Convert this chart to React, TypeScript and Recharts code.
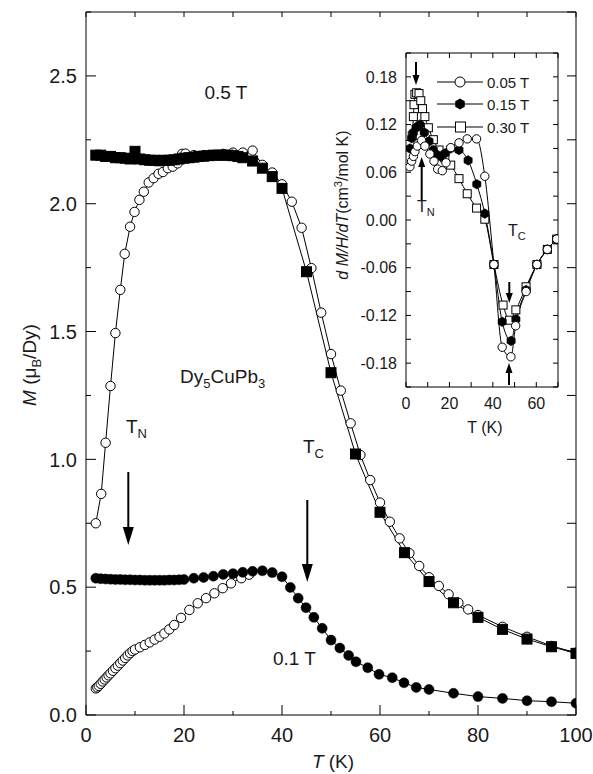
import React from 'react';
import { LineChart, Line, XAxis, YAxis } from 'recharts';

const FONT = '"Liberation Sans", Arial, Helvetica, sans-serif';

// Main panel: M (muB/Dy) vs T (K)
// 0.5 T, zero-field-cooled (open circles)
const t05zfc = [2, 3.1, 4, 5, 6, 7, 7.9, 9, 9.9, 10.9, 11.8, 12.8, 13.8, 14.8, 15.7, 16.7, 17.7, 18.7, 19.6, 20.3, 22, 24, 26, 28, 30, 32, 34, 36, 38, 40, 42, 44, 46, 48, 50, 52, 54, 56, 58, 60, 62, 64, 66, 68, 70, 72, 74, 76, 78, 80, 85, 90, 95, 100];
const m05zfc = [0.75, 0.865, 1.065, 1.287, 1.494, 1.663, 1.804, 1.91, 1.968, 2.015, 2.047, 2.083, 2.1, 2.117, 2.124, 2.139, 2.145, 2.158, 2.195, 2.196, 2.19, 2.19, 2.19, 2.195, 2.2, 2.2, 2.208, 2.152, 2.122, 2.076, 2.008, 1.906, 1.748, 1.574, 1.412, 1.269, 1.141, 1.017, 0.919, 0.831, 0.756, 0.691, 0.633, 0.583, 0.539, 0.505, 0.472, 0.439, 0.413, 0.391, 0.345, 0.306, 0.27, 0.244];
// 0.5 T, field-cooled (filled squares)
const t05fc = [2, 3, 4, 5, 6, 7, 8, 9, 10, 11, 12, 13, 14, 15, 16, 17, 18, 19, 20, 21, 22, 23, 24, 25, 26, 27, 28, 29, 30, 31, 32, 34, 36, 38, 40, 45, 50, 55, 60, 65, 70, 75, 80, 85, 90, 95, 100];
const m05fc = [2.19, 2.19, 2.185, 2.185, 2.18, 2.18, 2.178, 2.175, 2.205, 2.175, 2.172, 2.17, 2.17, 2.168, 2.17, 2.17, 2.172, 2.175, 2.178, 2.18, 2.182, 2.185, 2.186, 2.188, 2.19, 2.19, 2.19, 2.19, 2.188, 2.185, 2.18, 2.167, 2.139, 2.106, 2.06, 1.734, 1.339, 1.021, 0.793, 0.635, 0.522, 0.439, 0.382, 0.335, 0.297, 0.267, 0.241];
// 0.1 T, zero-field-cooled (open circles)
const t01zfc = [2, 2.3, 2.6, 3, 3.4, 3.8, 4.2, 4.6, 5, 5.5, 6, 6.5, 7, 7.5, 8, 8.5, 9, 9.5, 10, 11, 12, 13, 14, 15, 16, 17, 18, 19.4, 21.1, 22.8, 24.5, 26.2, 27.9, 29.6, 31.7, 33.3];
const m01zfc = [0.104, 0.108, 0.114, 0.122, 0.131, 0.139, 0.147, 0.155, 0.163, 0.173, 0.183, 0.193, 0.203, 0.213, 0.223, 0.233, 0.242, 0.25, 0.256, 0.265, 0.274, 0.284, 0.295, 0.306, 0.319, 0.335, 0.352, 0.38, 0.411, 0.437, 0.457, 0.476, 0.496, 0.515, 0.535, 0.549];
// 0.1 T, field-cooled (filled circles)
const t01fc = [2, 3, 4, 5, 6, 7, 8, 9, 10, 11, 12, 13, 14, 15, 16, 17, 18, 19, 20, 22, 24, 26, 28, 30, 32, 34, 36, 38, 40, 41.7, 43.3, 44.9, 46.5, 48.2, 50, 51.8, 53.6, 55.1, 57.5, 59.8, 62.5, 64.9, 67.4, 70, 75, 80, 85, 90, 95, 100];
const m01fc = [0.535, 0.533, 0.532, 0.531, 0.53, 0.53, 0.529, 0.529, 0.528, 0.528, 0.527, 0.527, 0.527, 0.527, 0.527, 0.528, 0.528, 0.529, 0.53, 0.535, 0.538, 0.543, 0.55, 0.553, 0.558, 0.562, 0.564, 0.557, 0.541, 0.499, 0.457, 0.42, 0.382, 0.339, 0.293, 0.262, 0.233, 0.208, 0.185, 0.159, 0.146, 0.126, 0.108, 0.1, 0.085, 0.072, 0.065, 0.056, 0.052, 0.046];

// Inset: d(M/H)/dT (cm3/mol K) vs T (K)
const t005 = [1.8, 2.6, 3.4, 4.1, 5.2, 7.2, 8.7, 11, 12.9, 14.6, 16.7, 18.4, 20.6, 24.4, 28.2, 32.5, 36.3, 40.5, 44.3, 48.3, 50.5, 55.3, 60.3, 65.1, 69.4];
const v005 = [0.067, 0.074, 0.08, 0.086, 0.093, 0.1, 0.093, 0.083, 0.074, 0.064, 0.062, 0.072, 0.091, 0.097, 0.102, 0.102, 0.055, -0.056, -0.16, -0.172, -0.133, -0.09, -0.056, -0.037, -0.024];
const t015 = [1.8, 2.6, 3.4, 4.6, 5.7, 6.4, 8.4, 10.6, 12.6, 14.4, 15.9, 18.1, 20.6, 24.4, 28.6, 32.6, 36.3, 40.5, 44.3, 48.4, 50.6, 55.3, 60.3, 65.1, 69.4];
const v015 = [0.09, 0.103, 0.11, 0.116, 0.118, 0.12, 0.11, 0.099, 0.088, 0.082, 0.08, 0.084, 0.09, 0.088, 0.075, 0.045, 0.008, -0.056, -0.128, -0.152, -0.125, -0.088, -0.056, -0.037, -0.024];
const t030 = [1.8, 2.9, 3.4, 3.7, 4.1, 4.9, 6, 6.8, 7.6, 8.7, 10.3, 12.6, 15.2, 17.9, 20.6, 24.4, 28.2, 32.5, 36.3, 40.5, 44.7, 47.7, 50.6, 55.3, 60.3, 65.1, 69.4];
const v030 = [0.095, 0.106, 0.13, 0.145, 0.158, 0.16, 0.159, 0.15, 0.14, 0.13, 0.116, 0.101, 0.088, 0.078, 0.069, 0.052, 0.033, 0.015, 0.001, -0.056, -0.107, -0.126, -0.113, -0.084, -0.056, -0.037, -0.024];

const legendLabels = ['0.05 T', '0.15 T', '0.30 T'];

// axis ticks
const mainXTicks = [0, 10, 20, 30, 40, 50, 60, 70, 80, 90, 100];
const mainYTicks = [0, 0.25, 0.5, 0.75, 1, 1.25, 1.5, 1.75, 2, 2.25, 2.5, 2.75];
const insetXTicks = [0, 10, 20, 30, 40, 50, 60, 70];
const insetYTicks = [-0.21, -0.18, -0.15, -0.12, -0.09, -0.06, -0.03, 0, 0.03, 0.06, 0.09, 0.12, 0.15, 0.18, 0.21];

const zip = (t: number[], v: number[]) => t.map((x, i) => ({ t: x, v: v[i] }));

type Side = 'bottom' | 'top' | 'left' | 'right';
interface TickSpec {
  side: Side;
  major: (v: number) => boolean;
  label?: (v: number) => string;
  longLen: number;
  shortLen: number;
  fontSize?: number;
  gap?: number;
}

// inward tick marks, labels outside
function axisTick(spec: TickSpec) {
  return function Tick(props: any) {
    const { x, y, payload } = props;
    const v = payload.value as number;
    const big = spec.major(v);
    const len = big ? spec.longLen : spec.shortLen;
    const dx = spec.side === 'left' ? len : spec.side === 'right' ? -len : 0;
    const dy = spec.side === 'bottom' ? -len : spec.side === 'top' ? len : 0;
    let text = null;
    if (spec.label && big) {
      const common = { fill: '#1a1a1a', fontFamily: FONT, fontSize: spec.fontSize };
      if (spec.side === 'bottom') {
        text = (
          <text x={x} y={y + (spec.gap || 0)} textAnchor="middle" {...common}>
            {spec.label(v)}
          </text>
        );
      } else if (spec.side === 'left') {
        text = (
          <text x={x - (spec.gap || 0)} y={y} dy="0.36em" textAnchor="end" {...common}>
            {spec.label(v)}
          </text>
        );
      }
    }
    return (
      <g>
        <line x1={x} y1={y} x2={x + dx} y2={y + dy} stroke="#000" strokeWidth={1} />
        {text}
      </g>
    );
  };
}

const isMult = (v: number, step: number) => Math.abs(Math.round(v / step) * step - v) < 1e-6;

const mainBottomTick = axisTick({ side: 'bottom', major: (v) => isMult(v, 20), label: (v) => String(v), longLen: 10, shortLen: 4, fontSize: 20, gap: 27 });
const mainTopTick = axisTick({ side: 'top', major: () => true, longLen: 5, shortLen: 5 });
const mainLeftTick = axisTick({ side: 'left', major: (v) => isMult(v, 0.5), label: (v) => v.toFixed(1), longLen: 10, shortLen: 5, fontSize: 20, gap: 9 });
const mainRightTick = axisTick({ side: 'right', major: () => true, longLen: 9, shortLen: 9 });

const insetBottomTick = axisTick({ side: 'bottom', major: (v) => isMult(v, 20), label: (v) => String(v), longLen: 5, shortLen: 5, fontSize: 16, gap: 22 });
const insetTopTick = axisTick({ side: 'top', major: () => true, longLen: 5, shortLen: 5 });
const insetLeftTick = axisTick({ side: 'left', major: (v) => isMult(v, 0.06), label: (v) => (Math.abs(v) < 1e-9 ? '0.00' : v.toFixed(2)), longLen: 5, shortLen: 5, fontSize: 16, gap: 9 });
const insetRightTick = axisTick({ side: 'right', major: () => true, longLen: 5, shortLen: 5 });

// marker shapes
const openCircle = (r: number) => (p: any) => (
  <circle key={p.index} cx={p.cx} cy={p.cy} r={r} fill="#fff" stroke="#000" strokeWidth={1} />
);
const filledCircle = (r: number) => (p: any) => (
  <circle key={p.index} cx={p.cx} cy={p.cy} r={r} fill="#000" stroke="#000" strokeWidth={0.5} />
);
const square = (s: number, filled: boolean) => (p: any) => (
  <rect key={p.index} x={p.cx - s / 2} y={p.cy - s / 2} width={s} height={s} fill={filled ? '#000' : '#fff'} stroke="#000" strokeWidth={1} />
);
const hexPath = (cx: number, cy: number, r: number) => {
  const pts = [0, 1, 2, 3, 4, 5].map((k) => {
    const a = (Math.PI / 3) * k - Math.PI / 2;
    return `${(cx + r * Math.cos(a)).toFixed(2)},${(cy + r * Math.sin(a)).toFixed(2)}`;
  });
  return `M${pts.join('L')}Z`;
};
const hexagon = (r: number) => (p: any) => <path key={p.index} d={hexPath(p.cx, p.cy, r)} fill="#000" stroke="#000" strokeWidth={0.5} />;

function Arrow({ x, from, to, head = 18, half = 5.5 }: { x: number; from: number; to: number; head?: number; half?: number }) {
  const dir = to > from ? 1 : -1;
  const base = to - dir * head;
  return (
    <g>
      <line x1={x} y1={from} x2={x} y2={base} stroke="#000" strokeWidth={2} />
      <path d={`M${x - half},${base} L${x + half},${base} L${x},${to} Z`} fill="#000" />
    </g>
  );
}

const W = 593;
const H = 774;

export default function App() {
  const lineProps = { stroke: '#000', strokeWidth: 1, isAnimationActive: false, activeDot: false as const, dataKey: 'v' };
  return (
    <div style={{ position: 'absolute', left: 0, top: 0, width: W, height: H, background: '#fff', fontFamily: FONT }}>
      {/* main panel */}
      <div style={{ position: 'absolute', left: 0, top: 0 }}>
        <LineChart width={W} height={H} margin={{ top: 11, right: 16, bottom: 58, left: 85 }}>
          <XAxis xAxisId="b" type="number" dataKey="t" domain={[0, 100]} allowDataOverflow ticks={mainXTicks} interval={0} height={1} orientation="bottom" tickSize={0} tickMargin={0} tick={mainBottomTick} tickLine={false} axisLine={{ stroke: '#000' }} />
          <XAxis xAxisId="t" type="number" dataKey="t" domain={[0, 100]} allowDataOverflow ticks={mainXTicks} interval={0} height={1} orientation="top" tickSize={0} tickMargin={0} tick={mainTopTick} tickLine={false} axisLine={{ stroke: '#000' }} />
          <YAxis yAxisId="l" type="number" domain={[0, 2.75]} allowDataOverflow ticks={mainYTicks} interval={0} width={1} orientation="left" tickSize={0} tickMargin={0} tick={mainLeftTick} tickLine={false} axisLine={{ stroke: '#000' }} />
          <YAxis yAxisId="r" type="number" domain={[0, 2.75]} allowDataOverflow ticks={mainYTicks} interval={0} width={1} orientation="right" tickSize={0} tickMargin={0} tick={mainRightTick} tickLine={false} axisLine={{ stroke: '#000' }} />
          <Line {...lineProps} xAxisId="b" yAxisId="l" data={zip(t05zfc, m05zfc)} type="linear" dot={openCircle(4.7)} />
          <Line {...lineProps} xAxisId="b" yAxisId="l" data={zip(t05fc, m05fc)} type="linear" dot={square(10, true)} />
          <Line {...lineProps} xAxisId="b" yAxisId="l" data={zip(t01zfc, m01zfc)} type="linear" dot={openCircle(4.7)} />
          <Line {...lineProps} xAxisId="b" yAxisId="l" data={zip(t01fc, m01fc)} type="linear" dot={filledCircle(5)} />
        </LineChart>
      </div>

      {/* inset panel */}
      <div style={{ position: 'absolute', left: 0, top: 0 }}>
        <LineChart width={W} height={H} margin={{ top: 52, right: 34, bottom: 386, left: 405 }}>
          <XAxis xAxisId="b" type="number" dataKey="t" domain={[0, 70]} allowDataOverflow ticks={insetXTicks} interval={0} height={1} orientation="bottom" tickSize={0} tickMargin={0} tick={insetBottomTick} tickLine={false} axisLine={{ stroke: '#000' }} />
          <XAxis xAxisId="t" type="number" dataKey="t" domain={[0, 70]} allowDataOverflow ticks={insetXTicks} interval={0} height={1} orientation="top" tickSize={0} tickMargin={0} tick={insetTopTick} tickLine={false} axisLine={{ stroke: '#000' }} />
          <YAxis yAxisId="l" type="number" domain={[-0.21, 0.21]} allowDataOverflow ticks={insetYTicks} interval={0} width={1} orientation="left" tickSize={0} tickMargin={0} tick={insetLeftTick} tickLine={false} axisLine={{ stroke: '#000' }} />
          <YAxis yAxisId="r" type="number" domain={[-0.21, 0.21]} allowDataOverflow ticks={insetYTicks} interval={0} width={1} orientation="right" tickSize={0} tickMargin={0} tick={insetRightTick} tickLine={false} axisLine={{ stroke: '#000' }} />
          <Line {...lineProps} xAxisId="b" yAxisId="l" data={zip(t030, v030)} type="monotone" dot={square(8, false)} />
          <Line {...lineProps} xAxisId="b" yAxisId="l" data={zip(t015, v015)} type="monotone" dot={hexagon(4.8)} />
          <Line {...lineProps} xAxisId="b" yAxisId="l" data={zip(t005, v005)} type="monotone" dot={openCircle(4.2)} />
        </LineChart>
      </div>

      {/* labels and annotations */}
      <svg width={W} height={H} style={{ position: 'absolute', left: 0, top: 0, pointerEvents: 'none' }} fontFamily={FONT} fill="#1a1a1a">
        {/* main axis titles */}
        <text x={333} y={768} fontSize={19} textAnchor="middle">
          <tspan fontStyle="italic">T</tspan> (K)
        </text>
        <text transform="translate(36,365) rotate(-90)" fontSize={19} textAnchor="middle">
          <tspan fontStyle="italic">M</tspan> (μ<tspan fontSize={13} dy={5}>B</tspan>
          <tspan dy={-5}>/Dy)</tspan>
        </text>

        <text x={226} y={99} fontSize={19} textAnchor="middle">0.5 T</text>
        <text x={180} y={383} fontSize={19}>
          Dy<tspan fontSize={13} dy={5}>5</tspan>
          <tspan dy={-5}>CuPb</tspan>
          <tspan fontSize={13} dy={5}>3</tspan>
        </text>
        <text x={273} y={665} fontSize={19}>0.1 T</text>

        <text x={126} y={433} fontSize={19}>
          T<tspan fontSize={13} dy={5}>N</tspan>
        </text>
        <Arrow x={128.3} from={472} to={545} />
        <text x={303} y={453} fontSize={19}>
          T<tspan fontSize={13} dy={5}>C</tspan>
        </text>
        <Arrow x={307.3} from={500} to={582} />

        {/* inset titles */}
        <text x={485} y={433} fontSize={16} textAnchor="middle">T (K)</text>
        <text transform="translate(348,205) rotate(-90)" fontSize={16} textAnchor="middle">
          <tspan fontStyle="italic">d M/H/dT</tspan>(cm<tspan fontSize={11} dy={-6}>3</tspan>
          <tspan dy={6}>/mol K)</tspan>
        </text>

        <text x={417} y={212} fontSize={16}>
          T<tspan fontSize={11} dy={4}>N</tspan>
        </text>
        <Arrow x={416} from={62} to={85} head={10} half={3.5} />
        <Arrow x={421.7} from={200} to={157} head={10} half={3.5} />
        <text x={508} y={236} fontSize={16}>
          T<tspan fontSize={11} dy={4}>C</tspan>
        </text>
        <Arrow x={509.3} from={282} to={303} head={10} half={3.5} />
        <Arrow x={509} from={385} to={363} head={10} half={3.5} />

        {/* inset legend */}
        {legendLabels.map((lab, i) => {
          const y = [82, 104, 127][i];
          return (
            <g key={lab}>
              <line x1={437} y1={y} x2={483} y2={y} stroke="#000" strokeWidth={1} />
              {i === 0 && <circle cx={460} cy={y} r={5} fill="#fff" stroke="#000" />}
              {i === 1 && <path d={hexPath(460, y, 5.5)} fill="#000" />}
              {i === 2 && <rect x={455.5} y={y - 5} width={10} height={10} fill="#fff" stroke="#000" />}
              <text x={487} y={y + 5.5} fontSize={15}>{lab}</text>
            </g>
          );
        })}
      </svg>
    </div>
  );
}
